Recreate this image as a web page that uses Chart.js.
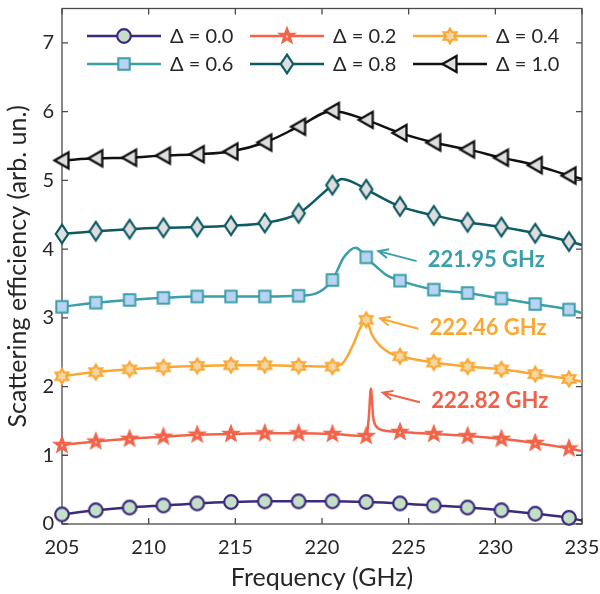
<!DOCTYPE html>
<html>
<head>
<meta charset="utf-8">
<script src="https://cdn.jsdelivr.net/npm/chart.js@4/dist/chart.umd.min.js"></script>
<style>
  html, body { margin: 0; padding: 0; background: #fff; }
</style>
</head>
<body>
<canvas id="chart" width="600" height="594"></canvas>
<script>
// marker frequencies (GHz), shared by all curves
const freq = [205, 206.95, 208.9, 210.85, 212.8, 214.75, 216.7, 218.65, 220.6, 222.55, 224.5, 226.45, 228.4, 230.35, 232.3, 234.25];
const xTicks = [205, 210, 215, 220, 225, 230, 235];
const yTicks = [0, 1, 2, 3, 4, 5, 6, 7];
const labels = ['Δ = 0.0', 'Δ = 0.2', 'Δ = 0.4', 'Δ = 0.6', 'Δ = 0.8', 'Δ = 1.0'];

// values at the markers
const d00 = [0.14, 0.20, 0.24, 0.27, 0.30, 0.32, 0.33, 0.33, 0.33, 0.32, 0.30, 0.27, 0.24, 0.20, 0.15, 0.09];
const d02 = [1.15, 1.20, 1.24, 1.27, 1.30, 1.31, 1.32, 1.32, 1.31, 1.28, 1.34, 1.31, 1.28, 1.24, 1.18, 1.10];
const d04 = [2.15, 2.21, 2.25, 2.28, 2.30, 2.31, 2.31, 2.30, 2.29, 2.97, 2.44, 2.35, 2.29, 2.25, 2.18, 2.11];
const d06 = [3.16, 3.22, 3.26, 3.29, 3.31, 3.31, 3.31, 3.32, 3.55, 3.88, 3.54, 3.41, 3.36, 3.28, 3.20, 3.12];
const d08 = [4.22, 4.26, 4.29, 4.31, 4.32, 4.34, 4.38, 4.52, 4.93, 4.87, 4.62, 4.49, 4.39, 4.32, 4.23, 4.11];
const d10 = [5.29, 5.32, 5.33, 5.36, 5.38, 5.42, 5.55, 5.78, 6.01, 5.88, 5.69, 5.55, 5.45, 5.33, 5.22, 5.07];

// extra curve points between markers
const e00x = [235];
const e00y = [0.05];
const e02x = [222.7, 222.82, 222.95, 223.1, 223.6, 235];
const e02y = [1.55, 1.97, 1.56, 1.43, 1.36, 1.06];
const e04x = [221.2, 221.8, 222.2, 222.87, 223.35, 223.9, 235];
const e04y = [2.34, 2.61, 2.85, 2.76, 2.59, 2.49, 2.07];
const e06x = [219.8, 220.85, 221.23, 221.95, 222.25, 223.15, 223.73, 235];
const e06y = [3.37, 3.67, 3.87, 4.02, 3.97, 3.74, 3.62, 3.07];
const e08x = [221.15, 221.8, 235];
const e08y = [5.02, 4.97, 4.06];
const e10x = [235];
const e10y = [5.02];

const colors = ['#3b2a7e', '#f2644a', '#fba733', '#3a9fa9', '#0e5a63', '#111111'];

const FONT = "Lato, 'Open Sans', sans-serif";
const TXT = '#262626';

function marker(w, h, draw) {
  const c = document.createElement('canvas');
  c.width = w; c.height = h;
  const g = c.getContext('2d');
  g.translate(w / 2, h / 2);
  draw(g);
  return c;
}
function poly(g, pts) {
  g.beginPath();
  pts.forEach((p, i) => i ? g.lineTo(p[0], p[1]) : g.moveTo(p[0], p[1]));
  g.closePath();
}
function starPts(n, ro, ri) {
  const pts = [];
  for (let i = 0; i < 2 * n; i++) {
    const r = i % 2 ? ri : ro;
    const a = -Math.PI / 2 + i * Math.PI / n;
    pts.push([r * Math.cos(a), r * Math.sin(a)]);
  }
  return pts;
}

const markers = [
  marker(20, 20, g => {
    g.beginPath(); g.arc(0, 0, 6.8, 0, Math.PI * 2);
    g.fillStyle = '#c3dfc5'; g.fill();
    g.lineWidth = 2.2; g.strokeStyle = colors[0]; g.stroke();
  }),
  marker(22, 22, g => {
    poly(g, starPts(5, 8.8, 3.7));
    g.fillStyle = colors[1]; g.fill();
    g.lineWidth = 1.2; g.strokeStyle = colors[1]; g.lineJoin = 'miter'; g.stroke();
    g.beginPath(); g.arc(0, 0.6, 1.1, 0, Math.PI * 2);
    g.fillStyle = '#f8d2c6'; g.fill();
  }),
  marker(22, 22, g => {
    poly(g, starPts(6, 7.4, 4.3));
    g.fillStyle = '#f2d7a2'; g.fill();
    g.lineWidth = 2.2; g.strokeStyle = colors[2]; g.lineJoin = 'miter'; g.stroke();
  }),
  marker(16, 16, g => {
    g.beginPath(); g.rect(-5.7, -5.7, 11.4, 11.4);
    g.fillStyle = '#b9d4f3'; g.fill();
    g.lineWidth = 2; g.strokeStyle = colors[3]; g.stroke();
  }),
  marker(18, 24, g => {
    poly(g, [[0, -9.3], [6.2, 0], [0, 9.3], [-6.2, 0]]);
    g.fillStyle = '#dedede'; g.fill();
    g.lineWidth = 2.2; g.strokeStyle = colors[4]; g.stroke();
  }),
  marker(22, 22, g => {
    poly(g, [[-7.5, 0], [6.5, -8], [6.5, 8]]);
    g.fillStyle = '#dedede'; g.fill();
    g.lineWidth = 2.3; g.strokeStyle = colors[5]; g.lineJoin = 'miter'; g.stroke();
  })
];

function series(vals, ex, ey) {
  const pts = freq.map((x, i) => ({ x: x, y: vals[i], m: true }));
  ex.forEach((x, i) => pts.push({ x: x, y: ey[i], m: false }));
  return pts.sort((a, b) => a.x - b.x);
}

const curves = [
  series(d00, e00x, e00y),
  series(d02, e02x, e02y),
  series(d04, e04x, e04y),
  series(d06, e06x, e06y),
  series(d08, e08x, e08y),
  series(d10, e10x, e10y)
];

const notes = [
  { text: '221.95 GHz', color: colors[3], head: [223.25, 3.97], tail: [225.46, 3.825], at: [226.1, 3.84] },
  { text: '222.46 GHz', color: colors[2], head: [223.35, 2.99], tail: [225.56, 2.84], at: [226.2, 2.85] },
  { text: '222.82 GHz', color: '#ef6148', head: [223.5, 1.91], tail: [225.65, 1.77], at: [226.3, 1.79] }
];

const framePlugin = {
  id: 'frame',
  beforeDatasetsDraw(chart) {
    const { ctx, chartArea: a, scales } = chart;
    ctx.save();
    ctx.strokeStyle = '#4a4a4a';
    ctx.lineWidth = 1.3;
    ctx.strokeRect(a.left, a.top, a.right - a.left, a.bottom - a.top);
    ctx.beginPath();
    xTicks.forEach(v => {
      const x = scales.x.getPixelForValue(v);
      ctx.moveTo(x, a.bottom); ctx.lineTo(x, a.bottom - 6);
      ctx.moveTo(x, a.top); ctx.lineTo(x, a.top + 6);
    });
    yTicks.forEach(v => {
      const y = scales.y.getPixelForValue(v);
      ctx.moveTo(a.left, y); ctx.lineTo(a.left + 6, y);
      ctx.moveTo(a.right, y); ctx.lineTo(a.right - 6, y);
    });
    ctx.stroke();
    ctx.restore();
  },
  afterDatasetsDraw(chart) {
    const { ctx, scales } = chart;
    ctx.save();
    // legend
    const rows = [36, 64], cols = [87, 250, 413];
    labels.forEach((lab, i) => {
      const x0 = cols[i % 3], y = rows[Math.floor(i / 3)];
      ctx.strokeStyle = colors[i];
      ctx.lineWidth = 2.5;
      ctx.beginPath(); ctx.moveTo(x0, y); ctx.lineTo(x0 + 74, y); ctx.stroke();
      const m = markers[i];
      ctx.drawImage(m, x0 + 37 - m.width / 2, y - m.height / 2);
      ctx.fillStyle = TXT;
      ctx.font = '20px ' + FONT;
      ctx.textBaseline = 'middle';
      ctx.textAlign = 'left';
      ctx.fillText(lab, x0 + 83, y + 1);
    });
    // resonance annotations
    notes.forEach(n => {
      const hx = scales.x.getPixelForValue(n.head[0]), hy = scales.y.getPixelForValue(n.head[1]);
      const tx = scales.x.getPixelForValue(n.tail[0]), ty = scales.y.getPixelForValue(n.tail[1]);
      const ang = Math.atan2(ty - hy, tx - hx);
      ctx.strokeStyle = n.color;
      ctx.lineWidth = 2;
      ctx.beginPath();
      ctx.moveTo(tx, ty); ctx.lineTo(hx, hy);
      ctx.moveTo(hx + 11 * Math.cos(ang + 0.42), hy + 11 * Math.sin(ang + 0.42));
      ctx.lineTo(hx, hy);
      ctx.lineTo(hx + 11 * Math.cos(ang - 0.42), hy + 11 * Math.sin(ang - 0.42));
      ctx.stroke();
      ctx.fillStyle = n.color;
      ctx.font = 'bold 22px ' + FONT;
      ctx.textBaseline = 'middle';
      ctx.textAlign = 'left';
      ctx.fillText(n.text, scales.x.getPixelForValue(n.at[0]), scales.y.getPixelForValue(n.at[1]));
    });
    ctx.restore();
  }
};

new Chart(document.getElementById('chart'), {
  type: 'line',
  data: {
    datasets: curves.map((pts, i) => ({
      label: labels[i],
      data: pts,
      borderColor: colors[i],
      backgroundColor: colors[i],
      borderWidth: 2.5,
      cubicInterpolationMode: 'monotone',
      pointStyle: markers[i],
      pointRadius: c => (c.raw && c.raw.m ? 6 : 0),
      pointHoverRadius: c => (c.raw && c.raw.m ? 6 : 0),
      clip: false
    }))
  },
  options: {
    responsive: false,
    animation: false,
    devicePixelRatio: 1,
    layout: { padding: { top: 4, right: 18, bottom: 0, left: 0 } },
    plugins: { legend: { display: false }, tooltip: { enabled: false } },
    scales: {
      x: {
        type: 'linear',
        min: 205,
        max: 235,
        afterBuildTicks: a => { a.ticks = xTicks.map(v => ({ value: v })); },
        afterFit: a => { a.height = 70; a.paddingLeft = 0; a.paddingRight = 0; },
        grid: { display: false, drawTicks: false },
        border: { display: false },
        ticks: { font: { family: FONT, size: 20 }, color: TXT, padding: 12, maxRotation: 0, autoSkip: false },
        title: { display: true, text: 'Frequency (GHz)', color: TXT, font: { family: FONT, size: 25 }, padding: { top: 0, bottom: 1 } }
      },
      y: {
        type: 'linear',
        min: 0,
        max: 7.5,
        afterBuildTicks: a => { a.ticks = yTicks.map(v => ({ value: v })); },
        afterFit: a => { a.width = 62; a.paddingTop = 0; a.paddingBottom = 0; },
        grid: { display: false, drawTicks: false },
        border: { display: false },
        ticks: { font: { family: FONT, size: 20 }, color: TXT, padding: 8 },
        title: { display: true, text: 'Scattering efficiency (arb. un.)', color: TXT, font: { family: FONT, size: 25 }, padding: { top: 3, bottom: 0 } }
      }
    }
  },
  plugins: [framePlugin]
});
</script>
</body>
</html>
